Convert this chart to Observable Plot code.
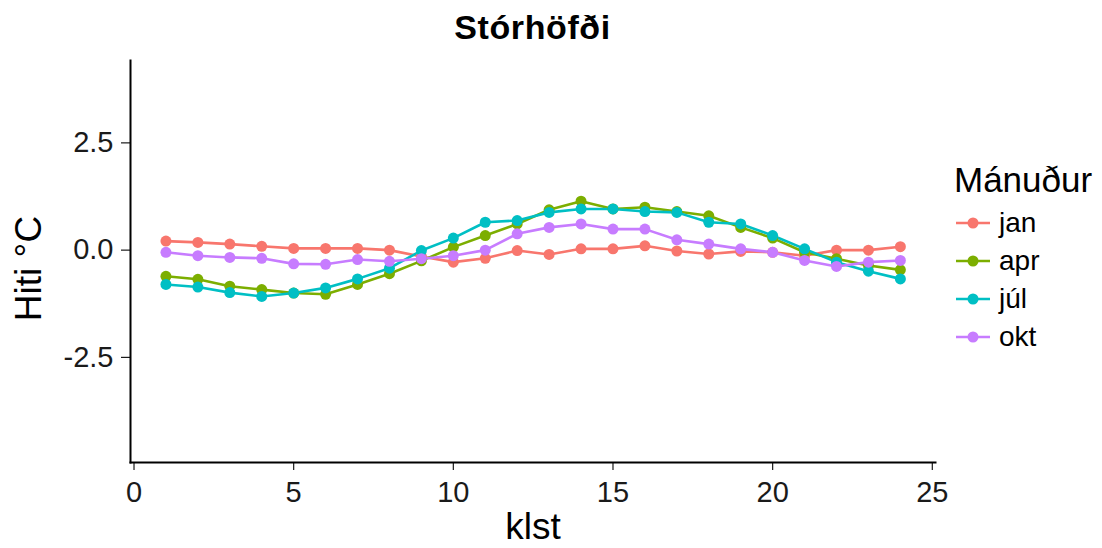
<!DOCTYPE html>
<html>
<head>
<meta charset="utf-8">
<script src="https://cdn.jsdelivr.net/npm/d3@7"></script>
<script src="https://cdn.jsdelivr.net/npm/@observablehq/plot@0.6"></script>
<style>
  body { margin: 0; background: #fff; font-family: "Liberation Sans", Arial, sans-serif; }
  #wrap { position: relative; width: 1102px; height: 548px; overflow: hidden; }
  #title { height: 38px; padding-top: 10px; line-height: 34px; font-size: 34px; font-weight: bold;
           margin-left: 130px; width: 805px; text-align: center; color: #000; letter-spacing: 0.6px; }
  #legend { position: absolute; left: 0; top: 0; }
  .lg-title { position: absolute; left: 954px; top: 162px; font-size: 35px; line-height: 35px; color: #000; white-space: nowrap; }
  .lg-item { position: absolute; left: 955px; height: 38px; display: flex; align-items: center; font-size: 28px; color: #000; }
  .lg-item svg { margin-right: 8px; }
</style>
</head>
<body>
<div id="wrap">
  <div id="title">Stórhöfði</div>
  <div id="chart"></div>
  <div id="legend"></div>
</div>
<script>
const hours = [1,2,3,4,5,6,7,8,9,10,11,12,13,14,15,16,17,18,19,20,21,22,23,24];
const months = ["jan", "apr", "júl", "okt"];
const colors = ["#F8766D", "#7CAE00", "#00BFC4", "#C77CFF"];
const jan = [0.21,0.18,0.14,0.09,0.04,0.04,0.04,0.0,-0.15,-0.28,-0.19,-0.01,-0.1,0.03,0.03,0.1,-0.02,-0.09,-0.03,-0.05,-0.13,0.0,0.0,0.08];
const apr = [-0.61,-0.68,-0.84,-0.92,-1.0,-1.03,-0.8,-0.55,-0.25,0.07,0.34,0.61,0.94,1.14,0.96,1.0,0.9,0.8,0.53,0.28,-0.05,-0.2,-0.36,-0.46];
const jul = [-0.8,-0.86,-0.99,-1.08,-1.0,-0.88,-0.67,-0.42,-0.01,0.28,0.65,0.69,0.88,0.96,0.96,0.9,0.88,0.65,0.61,0.34,0.03,-0.28,-0.49,-0.67];
const okt = [-0.05,-0.13,-0.17,-0.19,-0.32,-0.33,-0.22,-0.26,-0.2,-0.13,0.0,0.38,0.53,0.61,0.49,0.49,0.24,0.14,0.03,-0.05,-0.24,-0.38,-0.28,-0.24];
const xTicks = [0, 5, 10, 15, 20, 25];
const yTicks = [-2.5, 0, 2.5];
const xLabel = "klst";
const yLabel = "Hiti °C";
const legendTitle = "Mánuður";

const series = [jan, apr, jul, okt];
const data = [];
months.forEach((m, i) => hours.forEach((h, j) => data.push({klst: h, hiti: series[i][j], man: m})));

const chart = Plot.plot({
  width: 1102,
  height: 500,
  marginLeft: 130,
  marginRight: 167,
  marginTop: 12,
  marginBottom: 86,
  style: {fontFamily: "'Liberation Sans', Arial, sans-serif", background: "transparent", color: "#1a1a1a"},
  x: {domain: [-0.11, 25.1]},
  y: {domain: [-4.95, 4.42]},
  color: {domain: months, range: colors},
  marks: [
    Plot.line(data, {x: "klst", y: "hiti", z: "man", stroke: "man", strokeWidth: 2.6}),
    Plot.dot(data, {x: "klst", y: "hiti", fill: "man", r: 5.5}),
    Plot.axisX({ticks: xTicks, tickFormat: d => String(d), tickSize: 8, tickPadding: 11, fontSize: 29, label: null, stroke: "#1a1a1a", strokeWidth: 1.2}),
    Plot.axisY({ticks: yTicks, tickFormat: d => d.toFixed(1), tickSize: 9, tickPadding: 8, fontSize: 29, label: null, stroke: "#1a1a1a", strokeWidth: 1.2}),
    Plot.frame({anchor: "left", stroke: "#000", strokeWidth: 2}),
    Plot.frame({anchor: "bottom", stroke: "#000", strokeWidth: 2}),
    Plot.text([xLabel], {text: d => d, frameAnchor: "bottom", dy: 76, fontSize: 37, fill: "#000"}),
    Plot.text([yLabel], {text: d => d, frameAnchor: "left", textAnchor: "middle", dx: -101, dy: 7, rotate: -90, fontSize: 37, fill: "#000"})
  ]
});
document.getElementById("chart").appendChild(chart);

const lg = document.getElementById("legend");
const t = document.createElement("div");
t.className = "lg-title";
t.textContent = legendTitle;
lg.appendChild(t);
const centers = [223, 261, 299, 337];
months.forEach((m, i) => {
  const row = document.createElement("div");
  row.className = "lg-item";
  row.style.top = (centers[i] - 19) + "px";
  row.innerHTML = `<svg width="36" height="20"><line x1="1" y1="10" x2="35" y2="10" stroke="${colors[i]}" stroke-width="2.6"/><circle cx="18" cy="10" r="5.5" fill="${colors[i]}"/></svg><span>${m}</span>`;
  lg.appendChild(row);
});
</script>
</body>
</html>
